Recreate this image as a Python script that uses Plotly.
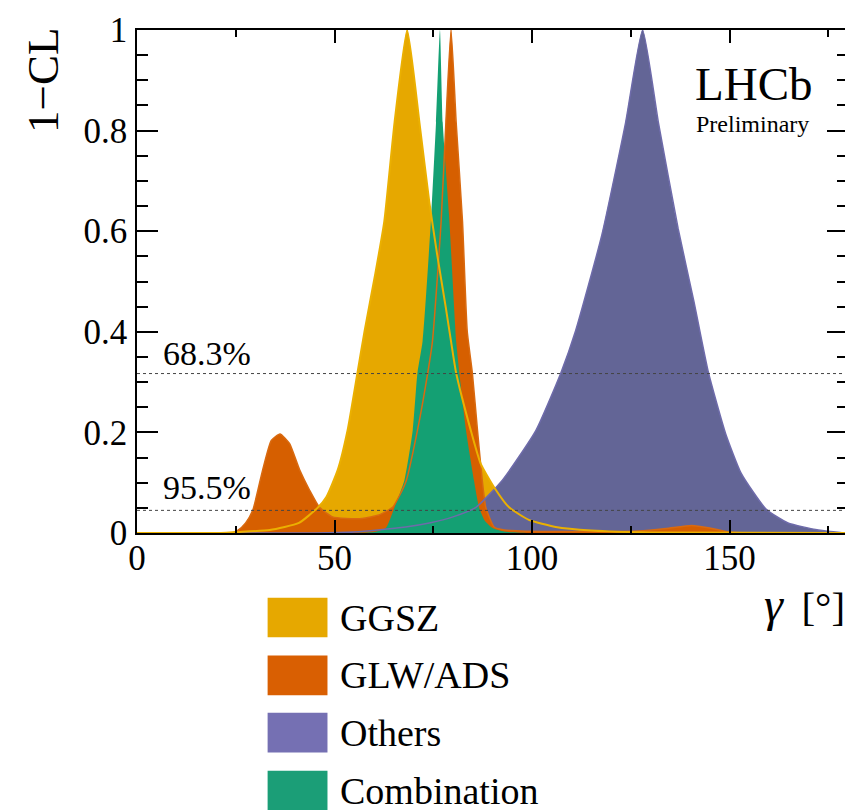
import plotly.graph_objects as go

# ---------------- data ----------------
series_names = ["GGSZ", "GLW/ADS", "Others", "Combination"]

ggsz_x = [0, 20, 26, 33.6, 41, 45.7, 47.9, 50.8, 53.3, 55.8, 57.6, 60.2, 62.6, 65.2, 68.4,
          71.5, 74, 76, 78.2, 79.5, 80.8, 84.5, 87, 90.4, 94.2, 99.2, 106, 115, 130, 180]
ggsz_y = [0, 0, 0.002, 0.006, 0.02, 0.05, 0.071, 0.125, 0.204, 0.318, 0.401, 0.51, 0.619, 0.816, 1.0,
          0.816, 0.658, 0.553, 0.447, 0.381, 0.318, 0.204, 0.138, 0.091, 0.051, 0.026, 0.012, 0.005, 0.001, 0]

glw_x = [0, 24, 25.5, 27.5, 29.3, 31.8, 34, 36.2, 38.6, 41.2, 43.7, 46.2, 49.5, 53, 57, 61.3,
         64.7, 66.5, 68.2, 71, 73.6, 74.8, 77, 78.2, 79.5, 80.8, 82.4, 83.6, 84.9, 86.2, 87.4,
         88.3, 90.4, 93, 97, 105, 120, 127, 134, 140.4, 145, 149.7, 155, 180]
glw_y = [0, 0, 0.005, 0.02, 0.045, 0.125, 0.184, 0.197, 0.178, 0.125, 0.085, 0.051, 0.032, 0.029, 0.029, 0.036,
         0.051, 0.075, 0.105, 0.204, 0.318, 0.381, 0.62, 0.816, 1.0, 0.816, 0.62, 0.401, 0.318, 0.204, 0.105,
         0.051, 0.012, 0.006, 0.004, 0.003, 0.003, 0.004, 0.009, 0.015, 0.01, 0.002, 0, 0]

others_x = [0, 45, 55, 61, 68, 74, 80, 85.8, 92.5, 101, 107.3, 111, 117.7, 123.7, 128,
            132, 137, 141, 144.7, 149, 153, 159.3, 164.8, 172.5, 178, 180]
others_y = [0, 0, 0.002, 0.006, 0.012, 0.02, 0.032, 0.051, 0.105, 0.204, 0.318, 0.401, 0.593, 0.816, 1.0,
            0.816, 0.605, 0.46, 0.318, 0.198, 0.118, 0.047, 0.02, 0.006, 0.001, 0]

comb_x = [0, 55, 60, 63, 65.2, 67.7, 69.8, 71, 72.3, 74.5, 75.7, 76.7, 77.4, 79, 80.8,
          81.6, 83.3, 85.3, 86.6, 88, 90, 93, 100, 180]
comb_y = [0, 0, 0.002, 0.01, 0.051, 0.105, 0.204, 0.318, 0.381, 0.632, 0.816, 1.0, 0.816, 0.632, 0.381,
          0.318, 0.204, 0.105, 0.051, 0.025, 0.01, 0.003, 0, 0]

cl_levels = [0.317, 0.045]
cl_labels = ["68.3%", "95.5%"]

x_ticks = [0, 50, 100, 150]
y_ticks = [0, 0.2, 0.4, 0.6, 0.8, 1]

# ---------------- styles ----------------
fill_colors = {"GGSZ": "#E6A800", "GLW/ADS": "#D65F00", "Others": "#636596", "Combination": "#14A073"}
legend_colors = {"GGSZ": "#E6A800", "GLW/ADS": "#D95F02", "Others": "#7570B3", "Combination": "#1B9E77"}
line_colors = {"GGSZ": "#EBB000", "GLW/ADS": "#D96A10", "Others": "#6E6BAA"}

SERIF = "Liberation Serif, Times New Roman, serif"

data = {
    "GGSZ": (ggsz_x, ggsz_y),
    "GLW/ADS": (glw_x, glw_y),
    "Others": (others_x, others_y),
    "Combination": (comb_x, comb_y),
}

SMOOTH = 0.5
fig = go.Figure()

# filled areas (drawing order as in the reference)
for name in ["GGSZ", "Others", "GLW/ADS", "Combination"]:
    xs, ys = data[name]
    fig.add_trace(go.Scatter(x=xs, y=ys, mode="lines", fill="tozeroy",
                             fillcolor=fill_colors[name],
                             line=dict(width=0, color=fill_colors[name], shape="spline", smoothing=SMOOTH),
                             name=name, showlegend=False, hoverinfo="skip"))

# outline curves drawn on top
for name, w in [("GLW/ADS", 1.5), ("Others", 1.5), ("GGSZ", 2)]:
    xs, ys = data[name]
    fig.add_trace(go.Scatter(x=xs, y=ys, mode="lines",
                             line=dict(width=w, color=line_colors[name], shape="spline", smoothing=SMOOTH),
                             showlegend=False, hoverinfo="skip"))

# confidence level lines
for lvl in cl_levels:
    fig.add_shape(type="line", xref="x", yref="y", x0=0, x1=180, y0=lvl, y1=lvl,
                  line=dict(color="#444444", width=1, dash="dot"), layer="above")

for lvl, lab, ylab in zip(cl_levels, cl_labels, [0.357, 0.09]):
    fig.add_annotation(x=6.2, y=ylab, xref="x", yref="y", text=lab, showarrow=False,
                       xanchor="left", yanchor="middle",
                       font=dict(family=SERIF, size=34, color="black"))

# texts
fig.add_annotation(x=-0.132, y=0.899, xref="paper", yref="paper", text="1−CL", textangle=-90,
                   showarrow=False, xanchor="center", yanchor="middle",
                   font=dict(family=SERIF, size=45, color="black"))
fig.add_annotation(x=0.999, y=-0.142, xref="paper", yref="paper",
                   text="<i><span style='font-size:48px'>γ</span></i>&#8201; [°]",
                   showarrow=False, xanchor="right", yanchor="middle",
                   font=dict(family=SERIF, size=41, color="black"))
fig.add_annotation(x=0.868, y=0.893, xref="paper", yref="paper", text="LHCb",
                   showarrow=False, xanchor="center", yanchor="middle",
                   font=dict(family=SERIF, size=47, color="black"))
fig.add_annotation(x=0.866, y=0.814, xref="paper", yref="paper", text="Preliminary",
                   showarrow=False, xanchor="center", yanchor="middle",
                   font=dict(family=SERIF, size=24, color="black"))

# manual legend
row_y = [-0.168, -0.283, -0.397, -0.512]
for name, yc in zip(series_names, row_y):
    fig.add_shape(type="rect", xref="paper", yref="paper", x0=0.1837, x1=0.2679,
                  y0=yc - 0.0395, y1=yc + 0.0395, fillcolor=legend_colors[name],
                  line=dict(width=0))
    fig.add_annotation(x=0.282, y=yc, xref="paper", yref="paper", text=name, showarrow=False,
                       xanchor="left", yanchor="middle",
                       font=dict(family=SERIF, size=38, color="black"))

axis_common = dict(showline=True, linecolor="black", linewidth=1.5, mirror="ticks",
                   ticks="inside", tickcolor="black", tickwidth=1.5, showgrid=False,
                   zeroline=False, tickfont=dict(family=SERIF, size=35, color="black"))

fig.update_xaxes(range=[0, 180], tickvals=x_ticks, ticktext=[str(v) for v in x_ticks],
                 ticklen=13, ticklabelstandoff=-7,
                 minor=dict(dtick=25, tick0=0, ticklen=7, tickcolor="black", tickwidth=1.5, ticks="inside"),
                 **axis_common)
fig.update_yaxes(range=[0, 1], tickvals=y_ticks, ticktext=[f"{v:g}" for v in y_ticks],
                 ticklen=21, ticklabelstandoff=1,
                 minor=dict(dtick=0.05, tick0=0, ticklen=11, tickcolor="black", tickwidth=1.5, ticks="inside"),
                 **axis_common)

# page has an 8px body margin: size the figure so the plot area lands where the reference has it
fig.update_layout(width=845, height=802, margin=dict(l=129, r=3, t=19, b=277),
                  plot_bgcolor="white", paper_bgcolor="white", showlegend=False)

fig.write_html("out.html")
